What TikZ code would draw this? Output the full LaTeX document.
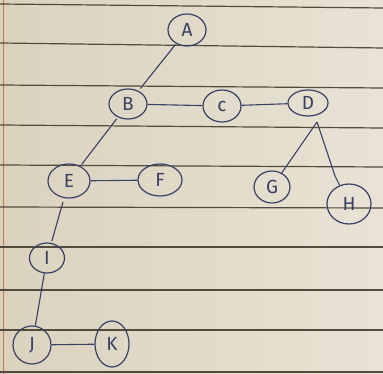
\documentclass[tikz,border=0pt]{standalone}
\usepackage{fontspec}
\setsansfont{Fira Sans}
\usetikzlibrary{shapes.geometric}
\definecolor{paperleft}{RGB}{219,210,190}
\definecolor{paperright}{RGB}{232,227,213}
\definecolor{rule}{RGB}{82,74,60}
\definecolor{margin}{RGB}{196,120,70}
\definecolor{ink}{RGB}{58,64,100}
\tikzset{
  vert/.style={ellipse, draw=ink, line width=1.2pt, inner sep=0pt,
    text=ink, font=\sffamily\fontsize{19}{19}\selectfont},
  link/.style={draw=ink, line width=1.1pt},
  ruling/.style={draw=rule, line width=1.2pt}
}
\begin{document}
\begin{tikzpicture}[x=1pt,y=-1pt]
  % sheet of ruled paper
  \useasboundingbox (0,0) rectangle (383,374);
  \shade[left color=paperleft, right color=paperright] (0,0) rectangle (383,374);
  \draw[margin, line width=1pt] (3,0) -- (3,374);
  \foreach \l/\r in {4/8, 43/48, 85/88, 125/128, 165/167, 207/208,
                     247/247, 290/290, 330/330, 372/372}
    \draw[ruling] (0,\l) -- (383,\r);

  % vertices
  \node[vert, minimum width=38pt, minimum height=32pt] (A) at (187,30) {A};
  \node[vert, minimum width=38pt, minimum height=30pt] (B) at (128,104) {B};
  \node[vert, minimum width=38pt, minimum height=32pt] (C) at (222,106) {c};
  \node[vert, minimum width=40pt, minimum height=26pt] (D) at (308,103) {D};
  \node[vert, minimum width=42pt, minimum height=34pt] (E) at (69,181) {E};
  \node[vert, minimum width=44pt, minimum height=32pt] (F) at (160,180) {F};
  \node[vert, minimum width=36pt, minimum height=32pt] (G) at (272,187) {G};
  \node[vert, minimum width=44pt, minimum height=40pt] (H) at (349,204) {H};
  \node[vert, minimum width=35pt, minimum height=30pt] (I) at (47,258) {I};
  \node[vert, minimum width=38pt, minimum height=38pt] (J) at (32,345) {J};
  \node[vert, minimum width=34pt, minimum height=46pt] (K) at (112,344) {K};

  % branch point below D and bend towards H
  \coordinate (Dfoot) at (317,122);
  \coordinate (Hbend) at (335,176);

  % edges
  \draw[link, shorten <=1pt, shorten >=3pt] (A) -- (B);
  \draw[link] (B) -- (C);
  \draw[link] (C) -- (D);
  \draw[link, shorten <=2pt, shorten >=2pt] (B) -- (E);
  \draw[link] (E) -- (F);
  \draw[link] (Dfoot) -- (G);
  \draw[link] (Dfoot) -- (Hbend) -- (H);
  \draw[link, shorten <=4pt, shorten >=2pt] (E) -- (I);
  \draw[link] (I) -- (J);
  \draw[link] (J) -- (K);
\end{tikzpicture}
\end{document}
